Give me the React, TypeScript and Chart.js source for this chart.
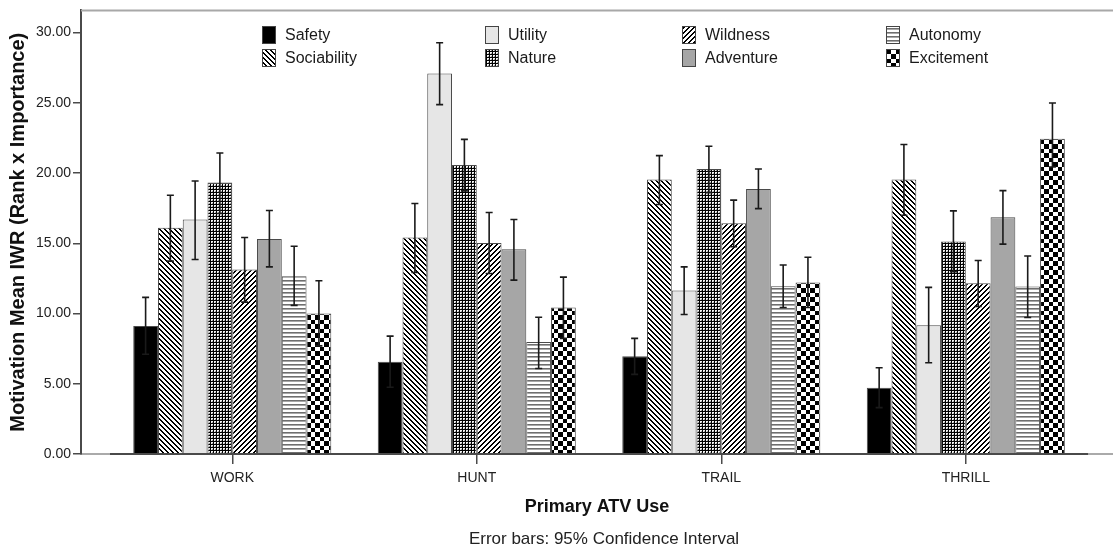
import React, { useEffect, useRef } from "react";
import { Chart, registerables } from "chart.js";

Chart.register(...registerables);

// ---- Data ----
const categories = ["WORK", "HUNT", "TRAIL", "THRILL"];
const seriesNames = ["Safety", "Sociability", "Utility", "Nature", "Wildness", "Adventure", "Autonomy", "Excitement"];

const safetyMean = [9.12, 6.57, 6.95, 4.72];
const safetyLow = [7.1, 4.75, 5.67, 3.3];
const safetyHigh = [11.15, 8.39, 8.23, 6.14];

const sociabilityMean = [16.1, 15.41, 19.54, 19.54];
const sociabilityLow = [13.73, 12.92, 17.76, 17.0];
const sociabilityHigh = [18.42, 17.83, 21.24, 22.03];

const utilityMean = [16.69, 27.08, 11.64, 9.17];
const utilityLow = [13.85, 24.87, 9.93, 6.5];
const utilityHigh = [19.44, 29.28, 13.32, 11.86];

const natureMean = [19.32, 20.58, 20.29, 15.13];
const natureLow = [17.12, 18.73, 18.61, 12.97];
const natureHigh = [21.43, 22.4, 21.91, 17.31];

const wildnessMean = [13.14, 15.03, 16.43, 12.16];
const wildnessLow = [10.81, 12.85, 14.75, 10.5];
const wildnessHigh = [15.41, 17.19, 18.07, 13.77];

const adventureMean = [15.31, 14.58, 18.87, 16.86];
const adventureLow = [13.32, 12.38, 17.47, 14.94];
const adventureHigh = [17.33, 16.69, 20.29, 18.75];

const autonomyMean = [12.66, 7.97, 11.95, 11.93];
const autonomyLow = [10.58, 6.09, 10.43, 9.72];
const autonomyHigh = [14.79, 9.74, 13.46, 14.1];

const excitementMean = [10.01, 10.43, 12.21, 22.45];
const excitementLow = [7.7, 8.23, 10.43, 20.43];
const excitementHigh = [12.33, 12.59, 14.01, 24.99];

const seriesMeans = [safetyMean, sociabilityMean, utilityMean, natureMean, wildnessMean, adventureMean, autonomyMean, excitementMean];
const seriesLow = [safetyLow, sociabilityLow, utilityLow, natureLow, wildnessLow, adventureLow, autonomyLow, excitementLow];
const seriesHigh = [safetyHigh, sociabilityHigh, utilityHigh, natureHigh, wildnessHigh, adventureHigh, autonomyHigh, excitementHigh];

const yTicksStep = 5;
const yTitle = "Motivation Mean IWR (Rank x Importance)";
const xTitle = "Primary ATV Use";
const noteText = "Error bars: 95% Confidence Interval";

const FONT = "'Liberation Sans', Arimo, Arial, sans-serif";

function makeTile(w: number, h: number, paint: (g: CanvasRenderingContext2D) => void) {
  const c = document.createElement("canvas");
  c.width = w;
  c.height = h;
  const g = c.getContext("2d")!;
  paint(g);
  return c;
}

function makePatterns(ctx: CanvasRenderingContext2D) {
  const diag = (dir: number) =>
    makeTile(5, 5, (g) => {
      g.fillStyle = "#ffffff";
      g.fillRect(0, 0, 5, 5);
      g.fillStyle = "#000000";
      for (let y = 0; y < 5; y++)
        for (let x = 0; x < 5; x++) {
          const k = dir > 0 ? (((x - y) % 5) + 5) % 5 : (x + y) % 5;
          if (k < 2) g.fillRect(x, y, 1, 1);
        }
    });
  const grid = makeTile(3, 3, (g) => {
    g.fillStyle = "#f4f4f4";
    g.fillRect(0, 0, 3, 3);
    g.fillStyle = "#000000";
    g.fillRect(0, 0, 3, 1);
    g.fillRect(0, 0, 1, 3);
    g.fillStyle = "#9a9a9a";
    g.fillRect(2, 2, 1, 1);
  });
  const hl = makeTile(4, 4, (g) => {
    g.fillStyle = "#ffffff";
    g.fillRect(0, 0, 4, 4);
    g.fillStyle = "#6e6e6e";
    g.fillRect(0, 0, 4, 1);
    g.fillStyle = "#a8a8a8";
    g.fillRect(0, 1, 4, 1);
  });
  const checker = makeTile(9, 9, (g) => {
    g.fillStyle = "#ffffff";
    g.fillRect(0, 0, 9, 9);
    g.fillStyle = "#000000";
    g.fillRect(0, 0, 5, 5);
    g.fillRect(5, 5, 4, 4);
  });
  return [
    "#000000",
    ctx.createPattern(diag(1), "repeat")!,
    "#e6e6e6",
    ctx.createPattern(grid, "repeat")!,
    ctx.createPattern(diag(-1), "repeat")!,
    "#a6a6a6",
    ctx.createPattern(hl, "repeat")!,
    ctx.createPattern(checker, "repeat")!,
  ];
}

export default function App() {
  const ref = useRef<HTMLCanvasElement>(null);

  useEffect(() => {
    document.body.style.margin = "0";
    const canvas = ref.current!;
    const ctx = canvas.getContext("2d")!;
    const fills = makePatterns(ctx);

    const legendBoxX = [262, 485, 682, 886];
    const legendRowTop = [26, 49];

    const extras = {
      id: "extras",
      afterDatasetsDraw(chart: any) {
        const c = chart.ctx as CanvasRenderingContext2D;
        const ys = chart.scales.y;
        const xs = chart.scales.x;
        const area = chart.chartArea;
        c.save();
        // top frame line
        c.strokeStyle = "#a8a8a8";
        c.lineWidth = 2;
        c.beginPath();
        c.moveTo(area.left, area.top);
        c.lineTo(area.right, area.top);
        c.stroke();
        // dark baseline segment
        const yb = ys.getPixelForValue(0);
        c.strokeStyle = "#4a4a4a";
        c.lineWidth = 2;
        c.beginPath();
        c.moveTo(xs.getPixelForValue(-0.5), yb);
        c.lineTo(xs.getPixelForValue(categories.length - 0.5), yb);
        c.stroke();
        // error bars
        c.strokeStyle = "#1a1a1a";
        c.lineWidth = 1.6;
        chart.data.datasets.forEach((_: any, i: number) => {
          const meta = chart.getDatasetMeta(i);
          meta.data.forEach((bar: any, j: number) => {
            const x = bar.x;
            const yl = ys.getPixelForValue(seriesLow[i][j]);
            const yh = ys.getPixelForValue(seriesHigh[i][j]);
            c.beginPath();
            c.moveTo(x, yl);
            c.lineTo(x, yh);
            c.moveTo(x - 3.5, yh);
            c.lineTo(x + 3.5, yh);
            c.moveTo(x - 3.5, yl);
            c.lineTo(x + 3.5, yl);
            c.stroke();
          });
        });
        // legend
        c.font = `16px ${FONT}`;
        c.textAlign = "left";
        c.textBaseline = "middle";
        seriesNames.forEach((name, i) => {
          const col = Math.floor(i / 2);
          const row = i % 2;
          const bx = legendBoxX[col];
          const by = legendRowTop[row];
          c.fillStyle = fills[i] as any;
          c.fillRect(bx, by, 14, 18);
          c.strokeStyle = "#444444";
          c.lineWidth = 1;
          c.strokeRect(bx + 0.5, by + 0.5, 13, 17);
          c.fillStyle = "#1a1a1a";
          c.fillText(name, bx + 23, by + 9.5);
        });
        // note
        c.font = `17px ${FONT}`;
        c.textAlign = "center";
        c.fillStyle = "#222222";
        c.fillText(noteText, 604, 539);
        c.restore();
      },
    };

    const datasets = seriesNames.map((name, i) => ({
      label: name,
      data: seriesMeans[i].map((v, j) => ({ x: j, y: v })),
      backgroundColor: fills[i] as any,
      borderColor: "#4a4a4a",
      borderWidth: 1,
      categoryPercentage: 0.81,
      barPercentage: 1,
    }));

    const chart = new Chart(canvas, {
      type: "bar",
      data: { datasets },
      plugins: [extras],
      options: {
        responsive: true,
        maintainAspectRatio: false,
        animation: false,
        layout: { padding: { top: 10, left: 0, right: 0, bottom: 0 } },
        plugins: {
          legend: { display: false },
          tooltip: { enabled: false },
        },
        scales: {
          x: {
            type: "linear",
            bounds: "data",
            min: -0.6186,
            max: 3.602,
            offset: false,
            afterFit: (s: any) => {
              s.height = 96;
            },
            afterBuildTicks: (s: any) => {
              s.ticks = categories.map((_, i) => ({ value: i }));
            },
            ticks: {
              callback: (v: any) => categories[v] ?? "",
              font: { family: FONT, size: 14 },
              color: "#222222",
              padding: 6,
              autoSkip: false,
              maxRotation: 0,
            },
            grid: { display: true, offset: false, drawOnChartArea: false, drawTicks: true, tickLength: 10, color: "#4a4a4a", lineWidth: 1.5 },
            border: { display: true, color: "#aaaaaa", width: 2 },
            title: {
              display: true,
              text: xTitle,
              font: { family: FONT, size: 18, weight: "bold" },
              color: "#111111",
              padding: { top: 0, bottom: 32 },
            },
          } as any,
          y: {
            bounds: "data",
            min: 0,
            max: 31.58,
            afterFit: (s: any) => {
              s.width = 81;
            },
            ticks: {
              stepSize: yTicksStep,
              includeBounds: false,
              callback: (v: any) => Number(v).toFixed(2),
              font: { family: FONT, size: 14 },
              color: "#222222",
              padding: 2,
            },
            grid: { display: true, drawOnChartArea: false, drawTicks: true, tickLength: 8, color: "#4a4a4a", lineWidth: 1.5 },
            border: { display: true, color: "#4a4a4a", width: 2 },
            title: {
              display: true,
              text: yTitle,
              font: { family: FONT, size: 20, weight: "bold" },
              color: "#111111",
              padding: { top: 6.5, bottom: 0 },
            },
          } as any,
        },
      },
    });

    return () => chart.destroy();
  }, []);

  return (
    <div style={{ width: 1113, height: 550, position: "relative" }}>
      <canvas ref={ref} />
    </div>
  );
}
